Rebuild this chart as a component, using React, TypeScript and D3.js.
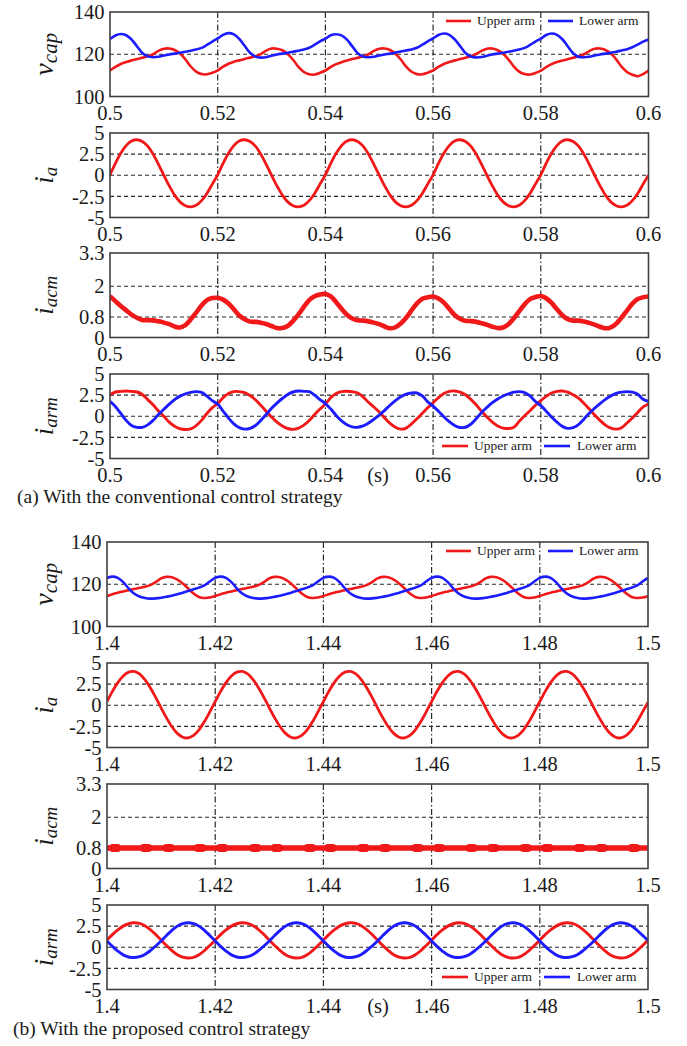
import React from "react";
import * as d3 from "d3";

// ---------- DATA ----------
const STEP = 0.001; // sampling step (s) of the waveform arrays
const A_T0 = 0.5;
const B_T0 = 1.4;

const A_XTICKS = [0.5, 0.52, 0.54, 0.56, 0.58, 0.6];
const A_XLABELS = ["0.5", "0.52", "0.54", "0.56", "0.58", "0.6"];
const B_XTICKS = [1.4, 1.42, 1.44, 1.46, 1.48, 1.5];
const B_XLABELS = ["1.4", "1.42", "1.44", "1.46", "1.48", "1.5"];

const VCAP_TICKS = [100, 120, 140];
const VCAP_GRID = [120];
const I_TICKS = [-5, -2.5, 0, 2.5, 5];
const I_TICK_LABELS = ["-5", "-2.5", "0", "2.5", "5"];
const I_GRID = [-2.5, 0, 2.5];
const IACM_TICKS = [0, 0.8, 2, 3.3];
const IACM_TICK_LABELS = ["0", "0.8", "2", "3.3"];
const IACM_GRID = [0.8, 2];

const LEGEND = ["Upper arm", "Lower arm"];
const CAPTIONS = ["(a) With the conventional control strategy", "(b) With the proposed control strategy"];

// (a) conventional
const A_VCAP_UP = [
  112.3,114.0,115.4,116.3,117.1,117.7,118.3,119.0,120.0,121.6,122.6,122.7,122.0,120.3,117.6,114.2,111.8,110.6,110.5,111.2,
  112.4,114.1,115.5,116.4,117.1,117.8,118.4,119.1,120.1,121.7,122.7,122.6,121.9,120.1,117.4,114.0,111.6,110.5,110.4,111.2,
  112.3,114.0,115.3,116.2,117.0,117.7,118.3,119.0,120.0,121.6,122.6,122.7,122.0,120.2,117.5,114.1,111.7,110.6,110.5,111.3,
  112.4,114.0,115.4,116.3,117.1,117.7,118.4,119.1,120.1,121.6,122.6,122.7,121.9,120.2,117.5,114.2,111.8,110.6,110.4,111.1,
  112.2,113.9,115.3,116.3,117.0,117.6,118.3,119.0,120.0,121.5,122.6,122.7,122.0,120.3,117.6,114.1,111.6,110.3,109.6,110.6,
  112.3,
];
const A_VCAP_LO = [
  127.3,128.9,129.6,129.0,127.0,123.8,120.6,119.0,118.6,118.8,119.4,119.9,120.3,120.7,121.2,121.7,122.2,123.0,124.4,126.0,
  127.5,129.2,130.0,129.4,127.3,124.0,120.7,118.9,118.4,118.6,119.3,119.9,120.3,120.7,121.2,121.7,122.3,123.1,124.5,126.1,
  127.4,129.0,129.5,128.9,126.9,123.7,120.5,118.9,118.6,118.8,119.4,119.9,120.3,120.8,121.3,121.8,122.3,123.1,124.5,126.1,
  127.5,129.1,129.8,129.2,127.1,123.9,120.6,118.9,118.5,118.7,119.3,119.9,120.3,120.7,121.2,121.7,122.2,123.0,124.4,126.0,
  127.4,129.1,129.8,129.2,127.1,123.8,120.5,118.8,118.6,118.8,119.4,119.9,120.3,120.7,121.2,121.8,122.4,123.3,124.6,126.0,
  127.0,
];
const A_IA = [
  0.05,1.4,2.6,3.5,4.05,4.2,4.0,3.45,2.5,1.3,0.0,-1.25,-2.35,-3.15,-3.6,-3.75,-3.55,-3.0,-2.15,-1.05,
  0.05,1.4,2.6,3.5,4.05,4.2,4.0,3.45,2.5,1.3,0.0,-1.25,-2.35,-3.15,-3.6,-3.75,-3.55,-3.0,-2.15,-1.05,
  0.05,1.4,2.6,3.5,4.05,4.2,4.0,3.45,2.5,1.3,0.0,-1.25,-2.35,-3.15,-3.6,-3.75,-3.55,-3.0,-2.15,-1.05,
  0.05,1.4,2.6,3.5,4.05,4.2,4.0,3.45,2.5,1.3,0.0,-1.25,-2.35,-3.15,-3.6,-3.75,-3.55,-3.0,-2.15,-1.05,
  0.05,1.4,2.6,3.5,4.05,4.2,4.0,3.45,2.5,1.3,0.0,-1.25,-2.35,-3.15,-3.6,-3.75,-3.55,-3.0,-2.15,-1.05,
  0.0,
];
const A_IACM = [
  1.61,1.42,1.23,1.06,0.89,0.77,0.68,0.68,0.67,0.63,0.58,0.52,0.43,0.39,0.48,0.71,0.97,1.25,1.46,1.54,
  1.55,1.48,1.33,1.10,0.86,0.71,0.62,0.61,0.58,0.53,0.45,0.37,0.37,0.45,0.65,0.90,1.20,1.46,1.61,1.68,
  1.70,1.61,1.38,1.12,0.89,0.74,0.67,0.66,0.63,0.58,0.52,0.43,0.36,0.40,0.55,0.77,1.06,1.33,1.51,1.57,
  1.60,1.52,1.36,1.12,0.88,0.73,0.65,0.64,0.61,0.56,0.50,0.42,0.37,0.39,0.52,0.75,1.03,1.30,1.50,1.58,
  1.62,1.53,1.35,1.10,0.87,0.72,0.66,0.66,0.62,0.57,0.50,0.42,0.36,0.40,0.54,0.78,1.05,1.32,1.50,1.57,
  1.60,
];
const A_IARM_UP = [
  2.55,2.87,2.95,2.99,2.95,2.87,2.58,1.97,1.35,0.61,0.0,-0.7,-1.19,-1.48,-1.56,-1.48,-1.1,-0.49,0.33,1.02,
  1.5,2.2,2.7,2.92,2.92,2.8,2.45,1.95,1.3,0.6,-0.1,-0.7,-1.15,-1.45,-1.55,-1.4,-1.05,-0.5,0.2,0.85,
  1.45,2.2,2.7,2.92,2.95,2.9,2.75,2.3,1.65,1.1,0.5,-0.2,-0.85,-1.3,-1.52,-1.4,-0.9,-0.3,0.35,1.0,
  1.6,2.2,2.7,2.95,2.99,2.85,2.55,2.0,1.35,0.6,-0.1,-0.7,-1.15,-1.4,-1.45,-1.3,-0.6,0.05,0.65,1.3,
  1.85,2.35,2.75,2.95,2.99,2.85,2.55,2.15,1.55,0.85,0.15,-0.5,-1.05,-1.4,-1.52,-1.35,-0.8,-0.2,0.45,1.1,
  1.45,
];
const A_IARM_LO = [
  1.76,1.15,0.33,-0.49,-1.1,-1.31,-1.31,-1.02,-0.49,0.2,0.82,1.43,1.97,2.38,2.66,2.83,2.91,2.83,2.38,1.84,
  1.43,0.61,-0.2,-0.9,-1.35,-1.52,-1.43,-1.1,-0.49,0.2,0.94,1.56,2.1,2.58,2.87,2.99,2.95,2.91,2.5,1.97,
  1.5,0.85,0.1,-0.55,-1.0,-1.25,-1.31,-1.15,-0.8,-0.35,0.12,0.7,1.3,1.85,2.3,2.62,2.75,2.75,2.4,1.7,
  1.2,0.6,-0.05,-0.65,-1.1,-1.33,-1.3,-0.95,-0.3,0.45,1.05,1.6,2.05,2.4,2.65,2.85,2.91,2.8,2.4,1.75,
  1.25,0.6,-0.1,-0.7,-1.2,-1.43,-1.35,-1.0,-0.35,0.35,0.95,1.5,2.0,2.4,2.7,2.85,2.91,2.85,2.6,2.0,
  1.76,
];

// (b) proposed
const B_VCAP_UP = [
  114.4,115.3,116.0,116.6,117.2,117.8,118.3,118.8,119.6,121.0,122.8,123.5,123.3,122.2,120.4,118.0,115.6,114.0,113.5,113.7,
  114.4,115.3,116.0,116.6,117.2,117.8,118.3,118.8,119.6,121.0,122.8,123.5,123.3,122.2,120.4,118.0,115.6,114.0,113.5,113.7,
  114.4,115.3,116.0,116.6,117.2,117.8,118.3,118.8,119.6,121.0,122.8,123.5,123.3,122.2,120.4,118.0,115.6,114.0,113.5,113.7,
  114.4,115.3,116.0,116.6,117.2,117.8,118.3,118.8,119.6,121.0,122.8,123.5,123.3,122.2,120.4,118.0,115.6,114.0,113.5,113.7,
  114.4,115.3,116.0,116.6,117.2,117.8,118.3,118.8,119.6,121.0,122.8,123.5,123.3,122.2,120.4,118.0,115.6,114.0,113.5,113.7,
  114.3,
];
const B_VCAP_LO = [
  123.0,123.6,123.0,121.0,118.0,115.6,114.2,113.5,113.2,113.3,113.6,114.1,114.6,115.3,116.0,116.8,117.6,118.4,119.5,121.3,
  123.0,123.6,123.0,121.0,118.0,115.6,114.2,113.5,113.2,113.3,113.6,114.1,114.6,115.3,116.0,116.8,117.6,118.4,119.5,121.3,
  123.0,123.6,123.0,121.0,118.0,115.6,114.2,113.5,113.2,113.3,113.6,114.1,114.6,115.3,116.0,116.8,117.6,118.4,119.5,121.3,
  123.0,123.6,123.0,121.0,118.0,115.6,114.2,113.5,113.2,113.3,113.6,114.1,114.6,115.3,116.0,116.8,117.6,118.4,119.5,121.3,
  123.0,123.6,123.0,121.0,118.0,115.6,114.2,113.5,113.2,113.3,113.6,114.1,114.6,115.3,116.0,116.8,117.6,118.4,119.5,121.3,
  123.0,
];
const B_IA = [
  0.44,1.64,2.68,3.47,3.92,4.0,3.7,3.03,2.08,0.93,-0.3,-1.5,-2.54,-3.33,-3.78,-3.86,-3.56,-2.9,-1.94,-0.79,
  0.44,1.64,2.68,3.47,3.92,4.0,3.7,3.03,2.08,0.93,-0.3,-1.5,-2.54,-3.33,-3.78,-3.86,-3.56,-2.9,-1.94,-0.79,
  0.44,1.64,2.68,3.47,3.92,4.0,3.7,3.03,2.08,0.93,-0.3,-1.5,-2.54,-3.33,-3.78,-3.86,-3.56,-2.9,-1.94,-0.79,
  0.44,1.64,2.68,3.47,3.92,4.0,3.7,3.03,2.08,0.93,-0.3,-1.5,-2.54,-3.33,-3.78,-3.86,-3.56,-2.9,-1.94,-0.79,
  0.44,1.64,2.68,3.47,3.92,4.0,3.7,3.03,2.08,0.93,-0.3,-1.5,-2.54,-3.33,-3.78,-3.86,-3.56,-2.9,-1.94,-0.79,
  0.35,
];
const B_IACM_STEP = 0.005;
const B_IACM = [0.8,0.8,0.8,0.8,0.8,0.8,0.8,0.8,0.8,0.8,0.8,0.8,0.8,0.8,0.8,0.8,0.8,0.8,0.8,0.8,0.8];
const B_IACM_RIPPLE_T = [
  1.4015,1.4072,1.4114,1.4172,1.4213,1.4274,1.4314,1.4375,1.4413,1.4474,
  1.4514,1.4574,1.4614,1.4674,1.4714,1.4774,1.4814,1.4874,1.4914,1.4974,
];
const B_IARM_UP = [
  0.85,1.5,2.05,2.5,2.78,2.9,2.82,2.55,2.1,1.5,0.85,0.2,-0.4,-0.9,-1.18,-1.28,-1.2,-0.9,-0.4,0.2,
  0.85,1.5,2.05,2.5,2.78,2.9,2.82,2.55,2.1,1.5,0.85,0.2,-0.4,-0.9,-1.18,-1.28,-1.2,-0.9,-0.4,0.2,
  0.85,1.5,2.05,2.5,2.78,2.9,2.82,2.55,2.1,1.5,0.85,0.2,-0.4,-0.9,-1.18,-1.28,-1.2,-0.9,-0.4,0.2,
  0.85,1.5,2.05,2.5,2.78,2.9,2.82,2.55,2.1,1.5,0.85,0.2,-0.4,-0.9,-1.18,-1.28,-1.2,-0.9,-0.4,0.2,
  0.85,1.5,2.05,2.5,2.78,2.9,2.82,2.55,2.1,1.5,0.85,0.2,-0.4,-0.9,-1.18,-1.28,-1.2,-0.9,-0.4,0.2,
  0.85,
];
const B_IARM_LO = [
  0.75,0.1,-0.45,-0.9,-1.15,-1.22,-1.12,-0.85,-0.4,0.15,0.75,1.4,2.0,2.5,2.8,2.9,2.8,2.5,2.0,1.4,
  0.75,0.1,-0.45,-0.9,-1.15,-1.22,-1.12,-0.85,-0.4,0.15,0.75,1.4,2.0,2.5,2.8,2.9,2.8,2.5,2.0,1.4,
  0.75,0.1,-0.45,-0.9,-1.15,-1.22,-1.12,-0.85,-0.4,0.15,0.75,1.4,2.0,2.5,2.8,2.9,2.8,2.5,2.0,1.4,
  0.75,0.1,-0.45,-0.9,-1.15,-1.22,-1.12,-0.85,-0.4,0.15,0.75,1.4,2.0,2.5,2.8,2.9,2.8,2.5,2.0,1.4,
  0.75,0.1,-0.45,-0.9,-1.15,-1.22,-1.12,-0.85,-0.4,0.15,0.75,1.4,2.0,2.5,2.8,2.9,2.8,2.5,2.0,1.4,
  0.8,
];

// ---------- STYLE ----------
const FONT = "Liberation Serif, Times New Roman, DejaVu Serif, serif";
const RED = "#f01818";
const BLUE = "#1c1cff";
const INK = "#1a1a1a";
const W = 687;
const H = 1046;
const PH = 84.5;

type Series = { values: number[]; t0: number; step: number; color: string; width: number };

type PanelCfg = {
  id: string;
  top: number;
  left: number;
  right: number;
  xDomain: [number, number];
  xTicks: number[];
  xLabels: string[];
  yDomain: [number, number];
  yTicks: number[];
  yLabels: string[];
  yGrid: number[];
  label: [string, string];
  labelBig?: boolean;
  series: Series[];
  legend?: "top" | "bottom";
  showUnit?: boolean;
  ripple?: number[];
};

function Panel({ c }: { c: PanelCfg }) {
  const x = d3.scaleLinear().domain(c.xDomain).range([c.left, c.right]);
  const y = d3.scaleLinear().domain(c.yDomain).range([c.top + PH, c.top]);
  const bottom = c.top + PH;
  const cy = c.top + PH / 2;
  const clipId = "clip-" + c.id;
  const mkLine = (s: Series) =>
    d3
      .line<number>()
      .x((_, i) => x(s.t0 + i * s.step))
      .y((v) => y(v))
      .curve(d3.curveCatmullRom.alpha(0.5))(s.values) || "";

  const legY = c.legend === "top" ? c.top + 9 : bottom - 12.5;
  const legX = c.legend === "top" ? [446, 471, 477, 548, 573, 579] : [442, 468, 474, 544, 570, 577];

  return (
    <g>
      <defs>
        <clipPath id={clipId}>
          <rect x={c.left} y={c.top} width={c.right - c.left} height={PH} />
        </clipPath>
      </defs>
      <rect x={c.left} y={c.top} width={c.right - c.left} height={PH} fill="#fff" />
      {c.yGrid.map((g) => (
        <line key={"h" + g} x1={c.left} x2={c.right} y1={y(g)} y2={y(g)} stroke="#2a2a2a" strokeWidth={1.1} strokeDasharray="4,3" />
      ))}
      {c.xTicks.slice(1, -1).map((t) => (
        <line key={"v" + t} x1={x(t)} x2={x(t)} y1={c.top} y2={bottom} stroke="#2a2a2a" strokeWidth={1.2} strokeDasharray="6,2.5,1.5,2.5" />
      ))}
      <g clipPath={`url(#${clipId})`}>
        {c.series.map((s, i) => (
          <path key={i} d={mkLine(s)} fill="none" stroke={s.color} strokeWidth={s.width} strokeLinejoin="round" />
        ))}
        {c.ripple &&
          c.ripple.map((t, i) => (
            <line key={"r" + i} x1={x(t - 0.0004)} x2={x(t + 0.0004)} y1={y(0.8)} y2={y(0.8)} stroke={RED} strokeWidth={8} strokeLinecap="round" />
          ))}
      </g>
      {c.legend && (
        <g fontFamily={FONT} fontSize={13.5} fill={INK}>
          <line x1={legX[0]} x2={legX[1]} y1={legY} y2={legY} stroke={RED} strokeWidth={2.6} />
          <text x={legX[2]} y={legY} dy="0.33em">{LEGEND[0]}</text>
          <line x1={legX[3]} x2={legX[4]} y1={legY} y2={legY} stroke={BLUE} strokeWidth={2.6} />
          <text x={legX[5]} y={legY} dy="0.33em">{LEGEND[1]}</text>
        </g>
      )}
      <rect x={c.left} y={c.top} width={c.right - c.left} height={PH} fill="none" stroke="#404040" strokeWidth={1.6} />
      <g fontFamily={FONT} fontSize={20.5} fill={INK}>
        {c.yTicks.map((t, i) => (
          <text key={"yt" + t} x={c.left - 5.5} y={y(t)} dy="0.35em" textAnchor="end">
            {c.yLabels[i]}
          </text>
        ))}
        {c.xTicks.map((t, i) => (
          <text key={"xt" + t} x={x(t)} y={bottom + 23.5} textAnchor="middle">
            {c.xLabels[i]}
          </text>
        ))}
        {c.showUnit && (
          <text x={378} y={bottom + 23.5} textAnchor="middle">(s)</text>
        )}
      </g>
      <text
        transform={`translate(${53},${cy}) rotate(-90)`}
        textAnchor="middle"
        fontFamily={FONT}
        fontStyle="italic"
        fontSize={c.labelBig ? 28 : 27}
        fill={INK}
      >
        {c.label[0]}
        <tspan fontSize={c.labelBig ? 21 : 19} dy={4}>
          {c.label[1]}
        </tspan>
      </text>
    </g>
  );
}

export default function App() {
  const A_LEFT = 110, A_RIGHT = 648.5, B_LEFT = 107, B_RIGHT = 648;
  const A_TOPS = [12, 133, 253, 374];
  const B_TOPS = [542, 663, 784, 905];

  const build = (
    key: string,
    tops: number[],
    left: number,
    right: number,
    t0: number,
    xTicks: number[],
    xLabels: string[],
    d: { vu: number[]; vl: number[]; ia: number[]; iacm: number[]; iacmStep: number; iacmW: number; iu: number[]; il: number[]; ripple?: number[] }
  ): PanelCfg[] => {
    const xDomain: [number, number] = [xTicks[0], xTicks[xTicks.length - 1]];
    const base = { left, right, xDomain, xTicks, xLabels };
    return [
      {
        ...base, id: key + "1", top: tops[0], yDomain: [100, 140], yTicks: VCAP_TICKS, yLabels: VCAP_TICKS.map(String),
        yGrid: VCAP_GRID, label: ["v", "cap"], labelBig: true, legend: "top",
        series: [
          { values: d.vu, t0, step: STEP, color: RED, width: 2.6 },
          { values: d.vl, t0, step: STEP, color: BLUE, width: 2.6 },
        ],
      },
      {
        ...base, id: key + "2", top: tops[1], yDomain: [-5, 5], yTicks: I_TICKS, yLabels: I_TICK_LABELS,
        yGrid: I_GRID, label: ["i", "a"],
        series: [{ values: d.ia, t0, step: STEP, color: RED, width: 2.8 }],
      },
      {
        ...base, id: key + "3", top: tops[2], yDomain: [0, 3.3], yTicks: IACM_TICKS, yLabels: IACM_TICK_LABELS,
        yGrid: IACM_GRID, label: ["i", "acm"], ripple: d.ripple,
        series: [{ values: d.iacm, t0, step: d.iacmStep, color: RED, width: d.iacmW }],
      },
      {
        ...base, id: key + "4", top: tops[3], yDomain: [-5, 5], yTicks: I_TICKS, yLabels: I_TICK_LABELS,
        yGrid: I_GRID, label: ["i", "arm"], legend: "bottom", showUnit: true,
        series: [
          { values: d.iu, t0, step: STEP, color: RED, width: 2.9 },
          { values: d.il, t0, step: STEP, color: BLUE, width: 2.9 },
        ],
      },
    ];
  };

  const panels = [
    ...build("a", A_TOPS, A_LEFT, A_RIGHT, A_T0, A_XTICKS, A_XLABELS, {
      vu: A_VCAP_UP, vl: A_VCAP_LO, ia: A_IA, iacm: A_IACM, iacmStep: STEP, iacmW: 4.6, iu: A_IARM_UP, il: A_IARM_LO,
    }),
    ...build("b", B_TOPS, B_LEFT, B_RIGHT, B_T0, B_XTICKS, B_XLABELS, {
      vu: B_VCAP_UP, vl: B_VCAP_LO, ia: B_IA, iacm: B_IACM, iacmStep: B_IACM_STEP, iacmW: 5.4, iu: B_IARM_UP, il: B_IARM_LO,
      ripple: B_IACM_RIPPLE_T,
    }),
  ];

  return (
    <svg
      width={W}
      height={H}
      viewBox={`0 0 ${W} ${H}`}
      style={{ position: "absolute", left: 0, top: 0, background: "#fff" }}
    >
      <rect x={0} y={0} width={W} height={H} fill="#fff" />
      {panels.map((p) => (
        <Panel key={p.id} c={p} />
      ))}
      <text x={17} y={503} fontFamily={FONT} fontSize={19.5} fill={INK}>{CAPTIONS[0]}</text>
      <text x={13} y={1035} fontFamily={FONT} fontSize={19.5} fill={INK}>{CAPTIONS[1]}</text>
    </svg>
  );
}
